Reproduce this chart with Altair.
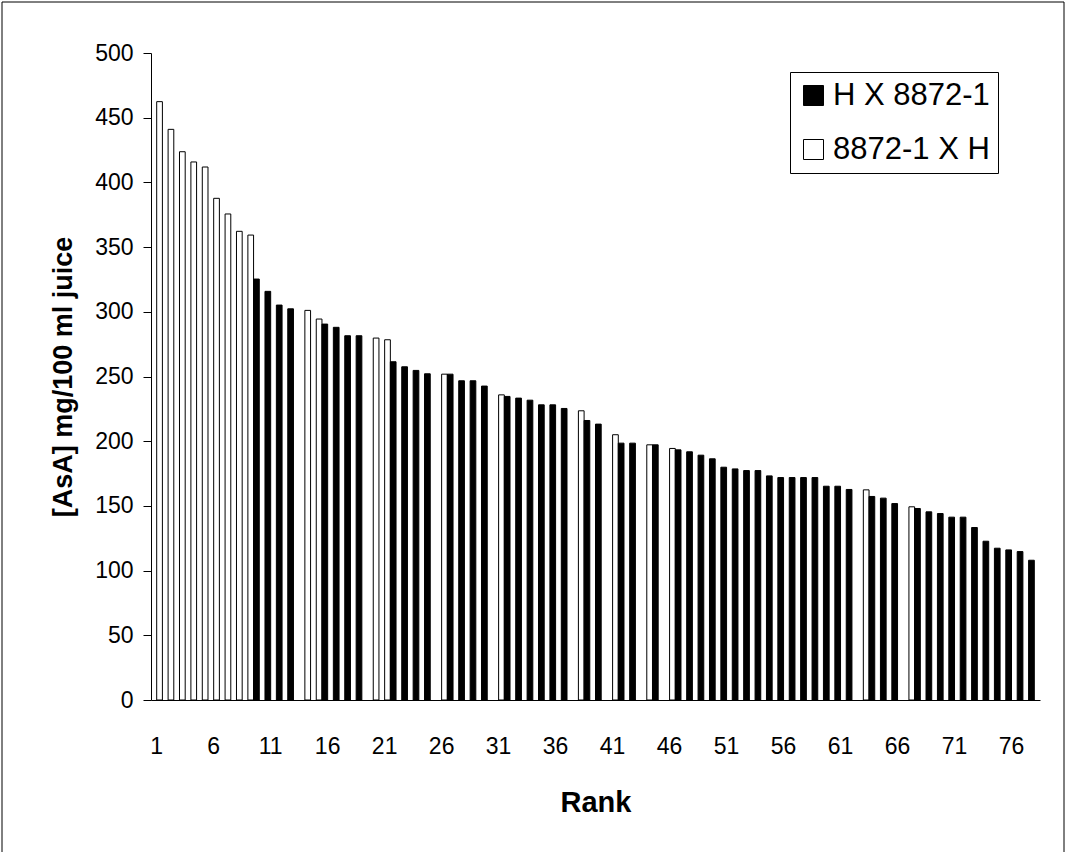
import altair as alt
import pandas as pd

series_names = ["H X 8872-1", "8872-1 X H"]

ranks = list(range(1, 79))

values = [
    462.4, 441.0, 423.7, 415.8, 411.9, 387.7, 375.6, 362.2, 359.3, 325.3,
    315.8, 305.2, 302.3, 301.1, 294.4, 290.5, 288.0, 281.5, 281.5, 279.7,
    278.4, 261.4, 257.5, 254.7, 252.1, 251.8, 251.8, 246.7, 246.7, 242.6,
    235.8, 234.6, 233.3, 231.7, 228.1, 228.1, 225.3, 223.5, 216.0, 213.2,
    205.0, 198.5, 198.5, 197.2, 197.2, 194.4, 193.3, 191.8, 189.2, 186.4,
    179.9, 178.6, 177.3, 177.3, 173.2, 171.9, 171.9, 171.9, 171.9, 165.2,
    165.2, 162.7, 162.4, 157.3, 156.0, 151.8, 149.3, 148.0, 145.4, 144.1,
    141.3, 141.3, 133.3, 122.7, 117.3, 116.0, 114.7, 108.0,
]

# H = "H X 8872-1" (black), R = "8872-1 X H" (white)
cross_codes = [
    "R", "R", "R", "R", "R", "R", "R", "R", "R", "H",
    "H", "H", "H", "R", "R", "H", "H", "H", "H", "R",
    "R", "H", "H", "H", "H", "R", "H", "H", "H", "H",
    "R", "H", "H", "H", "H", "H", "H", "R", "H", "H",
    "R", "H", "H", "R", "H", "R", "H", "H", "H", "H",
    "H", "H", "H", "H", "H", "H", "H", "H", "H", "H",
    "H", "H", "R", "H", "H", "H", "R", "H", "H", "H",
    "H", "H", "H", "H", "H", "H", "H", "H",
]

x_tick_values = [1, 6, 11, 16, 21, 26, 31, 36, 41, 46, 51, 56, 61, 66, 71, 76]
y_tick_values = [0, 50, 100, 150, 200, 250, 300, 350, 400, 450, 500]

code_to_name = {"H": series_names[0], "R": series_names[1]}
df = pd.DataFrame({
    "rank": ranks,
    "value": values,
    "cross": [code_to_name[c] for c in cross_codes],
})

FONT = "Liberation Sans"

bars = alt.Chart(df).mark_bar(stroke="black", strokeWidth=1).encode(
    x=alt.X(
        "rank:O",
        scale=alt.Scale(paddingInner=0, paddingOuter=0),
        axis=alt.Axis(
            values=x_tick_values, labelAngle=0, title="Rank",
            titleFont=FONT, titleFontSize=29, titleFontWeight="bold", titleColor="black",
            labelFont=FONT, labelFontSize=23, labelColor="black",
            tickSize=0, labelPadding=35, titlePadding=30,
            domainColor="black", domainWidth=1,
        ),
    ),
    xOffset=alt.XOffset(
        "cross:N",
        scale=alt.Scale(domain=series_names, paddingInner=0, paddingOuter=0),
    ),
    y=alt.Y(
        "value:Q",
        scale=alt.Scale(domain=[0, 500], nice=False),
        axis=alt.Axis(
            values=y_tick_values, title="[AsA] mg/100 ml juice", grid=False,
            titleFont=FONT, titleFontSize=27, titleFontWeight="bold", titleColor="black",
            labelFont=FONT, labelFontSize=23, labelColor="black",
            tickSize=8, tickColor="black", labelPadding=10, titlePadding=17,
            domainColor="black", domainWidth=1,
        ),
    ),
    fill=alt.Fill(
        "cross:N",
        scale=alt.Scale(domain=series_names, range=["black", "white"]),
        legend=alt.Legend(
            title=None, orient="none", legendX=639, legendY=19, direction="vertical",
            symbolType="square", symbolSize=400, symbolStrokeColor="black",
            symbolStrokeWidth=1, labelFont=FONT, labelFontSize=31, labelColor="black",
            labelOffset=4, labelLimit=400, strokeColor="black", fillColor="white",
            padding=8, rowPadding=22,
        ),
    ),
)

frame = alt.Chart(pd.DataFrame({"f": [0]})).mark_rect(
    fill="white", fillOpacity=0, stroke="black", strokeWidth=1
).encode(
    x=alt.value(-149), x2=alt.value(913), y=alt.value(-51), y2=alt.value(830)
)

chart = alt.layer(frame, bars).properties(
    width=889,
    height=647,
    autosize=alt.AutoSizeParams(type="none"),
    padding={"left": 151, "top": 53, "right": 27, "bottom": 152},
    background="white",
).configure_view(stroke=None)

chart.save("out.html", embed_options={"renderer": "svg", "actions": False})
